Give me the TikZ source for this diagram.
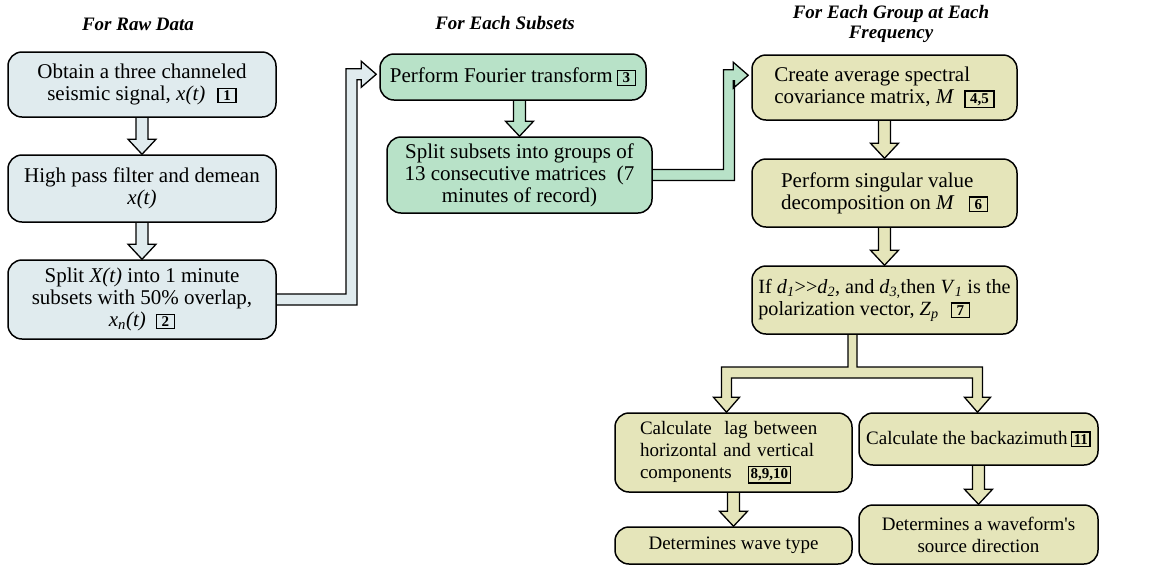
\documentclass[tikz,border=0pt]{standalone}
\usepackage{fontspec}
\setmainfont{Liberation Serif}
\usetikzlibrary{calc}
\pgfdeclarelayer{background}
\pgfsetlayers{background,main}
\definecolor{cblue}{HTML}{E0EBEE}
\definecolor{cgreen}{HTML}{B8E2C8}
\definecolor{cyel}{HTML}{E5E5BA}
\newcommand\nb[1]{{\setlength\fboxsep{1.5pt}\setlength\fboxrule{1.4pt}\fbox{\fontsize{15}{15}\selectfont\bfseries\kern3pt #1\kern3pt}}}
\newcommand\nbt[1]{{\setlength\fboxsep{1.5pt}\setlength\fboxrule{1.4pt}\fbox{\fontsize{15}{15}\selectfont\bfseries #1}}}
\newcommand\bodyA{\fontsize{21}{22}\selectfont}
\newcommand\bodyB{\fontsize{19}{22}\selectfont}
\newcommand\bodyC{\fontsize{20.2}{22}\selectfont}
% block arrow straight down from #1 to #2
\newcommand\downarr[3]{%
  \begin{pgfonlayer}{background}
  \filldraw[blk,fill=#3] let \p1=(#1.south), \p2=(#2.north) in
    (\x2-6pt,\y1+3pt) -- (\x2-6pt,\y2+15pt) -- (\x2-14pt,\y2+15pt) -- (\x2,\y2)
    -- (\x2+14pt,\y2+15pt) -- (\x2+6pt,\y2+15pt) -- (\x2+6pt,\y1+3pt);
  \end{pgfonlayer}}
% elbow block arrow from #1 (east) up to #2 (west), vertical bar at x=#3
\newcommand\elbow[4]{%
  \begin{pgfonlayer}{background}
  \filldraw[blk,fill=#4] let \p1=(#1.east), \p2=(#2.north west) in
    (\x1-3pt,\y1+5.5pt) -- (#3pt-5.5pt,\y1+5.5pt) -- (#3pt-5.5pt,\y2-21pt+5.5pt)
    -- (\x2-18pt,\y2-21pt+5.5pt) -- (\x2-18pt,\y2-21pt+13pt) -- (\x2-3pt,\y2-21pt)
    -- (\x2-18pt,\y2-21pt-13pt) -- (\x2-18pt,\y2-21pt-5.5pt) -- (#3pt+5.5pt,\y2-21pt-5.5pt)
    -- (#3pt+5.5pt,\y1-5.5pt) -- (\x1-3pt,\y1-5.5pt);
  \end{pgfonlayer}}
\begin{document}
\begin{tikzpicture}[x=1pt,y=-1pt,
  box/.style={draw=black, line width=1.5pt, rounded corners=14pt, inner xsep=6pt, inner ysep=0pt, align=center, font=\bodyA},
  title/.style={font=\fontsize{19}{20}\selectfont\bfseries\itshape, align=center, inner sep=0pt},
  blk/.style={draw=black, line width=1.3pt, line join=miter}]
\begin{pgfonlayer}{background}
  \fill[white] (0,0) rectangle (1163,566);
\end{pgfonlayer}
\useasboundingbox (0,0) rectangle (1163,566);

% titles
\node[title] (T1) at (138,24) {For Raw Data};
\node[title] (T2) at (505,23) {For Each Subsets};
\node[title] (T3) at (891,24) {For Each Group at Each\\Frequency};

% left column
\node[box, fill=cblue, minimum width=268pt, minimum height=65pt] (A1) at (142,84.5)
  {Obtain a three channeled\\seismic signal, \textit{x(t)}\hspace{12pt}\nb{1}};
\node[box, fill=cblue, minimum width=268pt, minimum height=67pt] (A2) at (142,188.5)
  {High pass filter and demean\\\textit{x(t)}};
\node[box, fill=cblue, minimum width=268pt, minimum height=79pt] (A3) at (142,299.5)
  {Split \textit{X(t)} into 1 minute\\subsets with 50\% overlap,\\\textit{x}\textsubscript{\textit{n}}\textit{(t)}\hspace{10pt}\nb{2}};

% middle column
\node[box, fill=cgreen, minimum width=266pt, minimum height=46pt] (B1) at (513,77)
  {Perform Fourier transform\hspace{4pt}\nb{3}};
\node[box, fill=cgreen, minimum width=265pt, minimum height=76pt] (B2) at (519.5,175)
  {Split subsets into groups of\\13 consecutive matrices\ \ (7\\minutes of record)};

% right column
\node[box, fill=cyel, align=left, minimum width=265pt, minimum height=65pt] (C1) at (884.5,87.5)
  {Create average spectral\\covariance matrix, \textit{M}\hspace{10pt}\nb{4,5}};
\node[box, fill=cyel, align=left, minimum width=265pt, minimum height=68pt] (C2) at (884.5,193)
  {Perform singular value\\decomposition on \textit{M}\hspace{14pt}\nb{6}};
\node[box, fill=cyel, align=left, font=\bodyC, inner xsep=4pt, minimum width=265pt, minimum height=68pt] (C3) at (884.5,300)
  {If \textit{d}\textsubscript{\textit{1}}>{}>\textit{d}\textsubscript{\textit{2}}, and \textit{d}\textsubscript{\textit{3,}}then \textit{V}\textsubscript{\textit{1}} is the\\polarization vector, \textit{Z}\textsubscript{\textit{p}}\hspace{12pt}\nb{7}};

% bottom
\node[box, fill=cyel, font=\bodyB, align=left, text width=187pt, inner xsep=25pt, minimum width=237pt, minimum height=79pt] (D1) at (733.5,452.5)
  {\mbox{Calculate\ \ lag between}\\\mbox{horizontal and vertical}\\\mbox{components\hspace{16pt}\nbt{8,9,10}}};
\node[box, fill=cyel, font=\bodyB, inner xsep=4pt, minimum width=239pt, minimum height=52pt] (D2) at (978.5,439)
  {Calculate the backazimuth\,\nbt{11}};
\node[box, fill=cyel, font=\bodyB, minimum width=237pt, minimum height=37pt] (D3) at (733.5,545.5)
  {Determines wave type};
\node[box, fill=cyel, font=\bodyB, minimum width=239pt, minimum height=59pt] (D4) at (978.5,534.5)
  {Determines a waveform\textquotesingle s\\source direction};

% connectors
\downarr{A1}{A2}{cblue}
\downarr{A2}{A3}{cblue}
\downarr{B1}{B2}{cgreen}
\downarr{C1}{C2}{cyel}
\downarr{C2}{C3}{cyel}
\downarr{D1}{D3}{cyel}
\downarr{D2}{D4}{cyel}
\elbow{A3}{B1}{351.5}{cblue}
\elbow{B2}{C1}{729}{cgreen}

\coordinate (fork) at (852.5,372.5);
\begin{pgfonlayer}{background}
\filldraw[blk,fill=cyel] let \p1=(C3.south), \p2=(D1.north), \p3=(D2.north), \p4=(fork) in
  (\x4-4.5pt,\y1+3pt) -- (\x4-4.5pt,\y4+5.5pt) -- (\x2-12pt,\y4+5.5pt) -- (\x2-12pt,\y2+15pt)
  -- (\x2-20pt,\y2+15pt) -- (\x2-7pt,\y2) -- (\x2+6pt,\y2+15pt) -- (\x2-2pt,\y2+15pt)
  -- (\x2-2pt,\y4-5.5pt) -- (\x3-6pt,\y4-5.5pt) -- (\x3-6pt,\y3+15pt) -- (\x3-14pt,\y3+15pt)
  -- (\x3-1pt,\y3) -- (\x3+12pt,\y3+15pt) -- (\x3+4pt,\y3+15pt) -- (\x3+4pt,\y4+5.5pt)
  -- (\x4+4.5pt,\y4+5.5pt) -- (\x4+4.5pt,\y1+3pt);
\end{pgfonlayer}
\end{tikzpicture}
\end{document}
